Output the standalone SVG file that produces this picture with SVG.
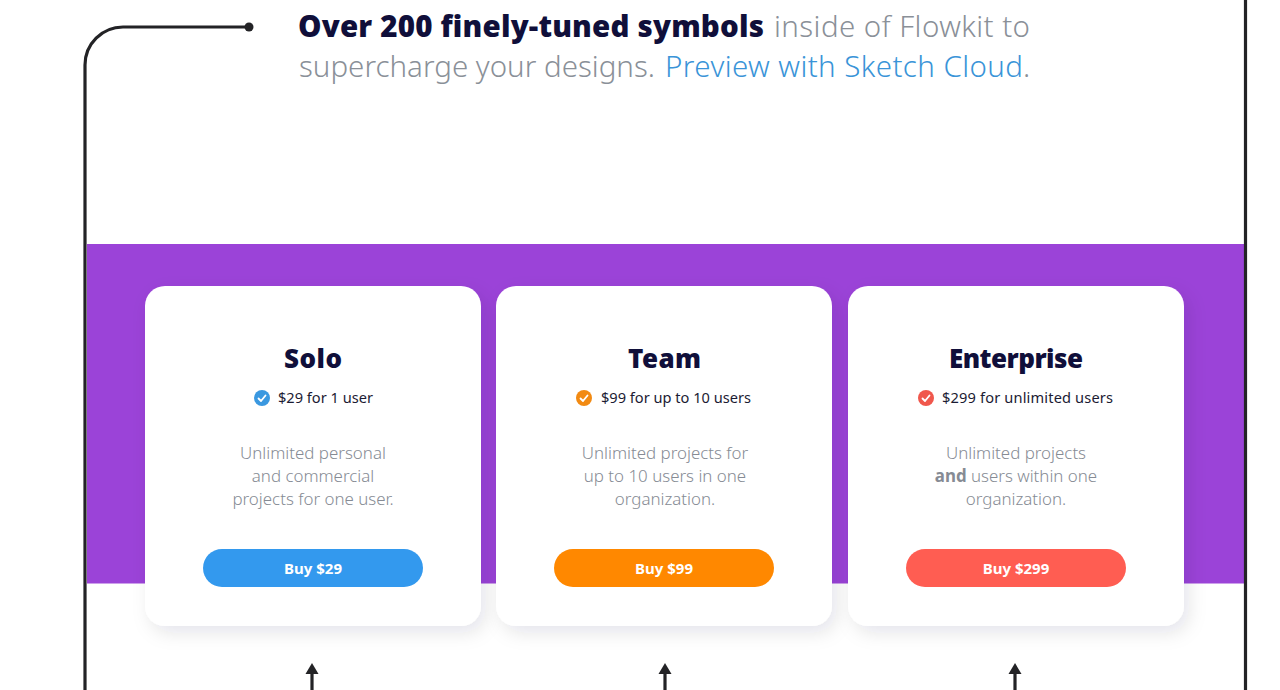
<svg xmlns="http://www.w3.org/2000/svg" width="1280" height="690" viewBox="0 0 1280 690">
<defs>
<filter id="sh" x="-15%" y="-15%" width="130%" height="130%"><feDropShadow dx="5" dy="7" stdDeviation="9" flood-color="#1a1a3a" flood-opacity="0.1"/></filter>
</defs>
<style>
text{font-family:"Noto Sans","Open Sans",sans-serif}
.line{fill:none;stroke:#232326;stroke-width:3.200}
.card{fill:#fff;filter:url(#sh)}
.h{font-size:26px;font-weight:900;fill:#100f3a;text-anchor:middle}
.price{font-size:14.600px;fill:#1b1b33}
.desc{font-size:16.900px;font-weight:300;fill:#868b94;text-anchor:middle}
.btn{font-size:15px;font-weight:700;fill:#fff;text-anchor:middle}
.head{font-size:29.500px;font-weight:300;fill:#8a9098}
.tick{fill:none;stroke:#fff;stroke-width:1.800;stroke-linecap:round;stroke-linejoin:round}
</style>
<rect width="1280" height="690" fill="#fff"/>
<rect id="band" x="87" y="244" width="1158" height="339.500" fill="#9b43d8"/>
<g id="connectors">
<path class="line" d="M249 27 H123 A38 38 0 0 0 85 65 V690"/>
<circle cx="249" cy="27" r="4.500" fill="#232326"/>
<path class="line" d="M1245.500 0 V690"/>
<path class="line" d="M312 690 V672"/><path d="M312 663 L318.500 674 H305.500 Z" fill="#232326"/>
<path class="line" d="M665 690 V672"/><path d="M665 663 L671.500 674 H658.500 Z" fill="#232326"/>
<path class="line" d="M1015 690 V672"/><path d="M1015 663 L1021.500 674 H1008.500 Z" fill="#232326"/>
</g>
<g id="headline">
<text class="head" y="37"><tspan x="298" textLength="466" font-weight="900" fill="#100f3a">Over 200 finely-tuned symbols</tspan><tspan x="774" textLength="256">inside of Flowkit to</tspan></text>
<text class="head" y="77"><tspan x="299" textLength="356">supercharge your designs.</tspan><tspan x="665" textLength="358" fill="#3a94d8">Preview with Sketch Cloud</tspan><tspan x="1023">.</tspan></text>
</g>
<g id="solo">
<rect class="card" x="145" y="286" width="336" height="340" rx="20"/>
<text class="h" x="313" y="368" textLength="58">Solo</text>
<circle cx="262" cy="398" r="8" fill="#3a98e0"/><path class="tick" d="M258.500 398.500 L261 401 L265.500 395.500"/>
<text class="price" x="278" y="403">$29 for 1 user</text>
<text class="desc" x="313" y="459">Unlimited personal</text>
<text class="desc" x="313" y="482">and commercial</text>
<text class="desc" x="313" y="505">projects for one user.</text>
<rect x="203" y="549" width="220" height="38" rx="19" fill="#3399ee"/>
<text class="btn" x="313" y="574">Buy $29</text>
</g>
<g id="team">
<rect class="card" x="496" y="286" width="336" height="340" rx="20"/>
<text class="h" x="664.500" y="368" textLength="73">Team</text>
<circle cx="584" cy="398" r="8" fill="#f28a12"/><path class="tick" d="M580.500 398.500 L583 401 L587.500 395.500"/>
<text class="price" x="601" y="403">$99 for up to 10 users</text>
<text class="desc" x="665" y="459">Unlimited projects for</text>
<text class="desc" x="665" y="482">up to 10 users in one</text>
<text class="desc" x="665" y="505">organization.</text>
<rect x="554" y="549" width="220" height="38" rx="19" fill="#ff8800"/>
<text class="btn" x="664" y="574">Buy $99</text>
</g>
<g id="enterprise">
<rect class="card" x="848" y="286" width="336" height="340" rx="20"/>
<text class="h" x="1016" y="368" textLength="134">Enterprise</text>
<circle cx="926" cy="398" r="8" fill="#f0574c"/><path class="tick" d="M922.500 398.500 L925 401 L929.500 395.500"/>
<text class="price" x="942" y="403" textLength="171">$299 for unlimited users</text>
<text class="desc" x="1016" y="459">Unlimited projects</text>
<text class="desc" x="1016" y="482"><tspan font-weight="700">and</tspan> users within one</text>
<text class="desc" x="1016" y="505">organization.</text>
<rect x="906" y="549" width="220" height="38" rx="19" fill="#ff5d52"/>
<text class="btn" x="1016" y="574">Buy $299</text>
</g>
</svg>
